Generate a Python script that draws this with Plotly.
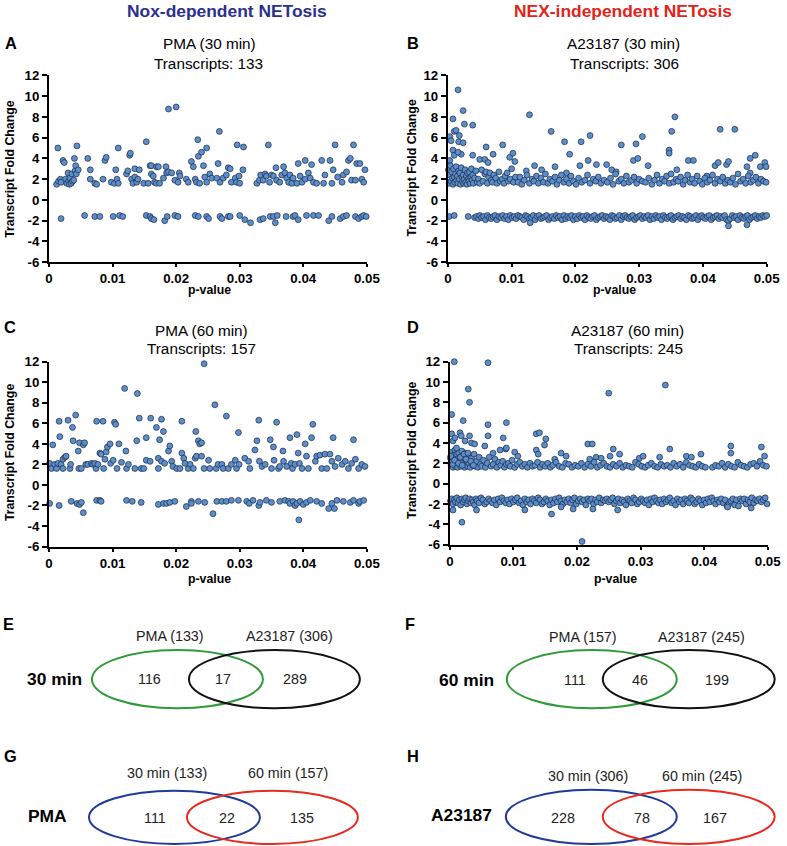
import plotly.graph_objects as go

# Figure size in page pixels (the photographed picture is 787 x 846)
W, H = 805, 865
# observed mapping from page pixels to picture pixels: pic = S * page + OFF
S = 0.978
OFF_X, OFF_Y = 4.0, 8.0
K = 1 / S
FONT = "Liberation Sans, Arial, sans-serif"

# ---------------- DATA ----------------
# p-values are given in units of 1e-3, fold changes as is
P_TICK_VALS = [0, 0.01, 0.02, 0.03, 0.04, 0.05]
P_TICK_TEXT = ["0", "0.01", "0.02", "0.03", "0.04", "0.05"]
FC_TICK_VALS = [-6, -4, -2, 0, 2, 4, 6, 8, 10, 12]
FC_TICK_TEXT = ["-6", "-4", "-2", "0", "2", "4", "6", "8", "10", "12"]

# Panel A: PMA (30 min)
A_points = [
    (1.4, 5.0), (1.2, 1.5), (1.5, 1.8), (1.8, 2.0), (1.9, 1.7),
    (2.2, 3.8), (2.4, 3.6), (2.6, 2.0), (2.8, 1.6), (3.0, 2.6), (3.1, 1.8), (3.2, 1.5),
    (3.3, 2.1), (3.5, 1.6), (3.6, 2.5), (3.7, 1.8), (4.0, 4.0), (4.1, 2.8), (3.9, 1.9),
    (4.2, 3.3), (4.4, 5.2), (4.3, 2.5), (4.6, 2.9),
    (6.1, 4.0), (6.5, 2.9), (6.5, 2.0), (7.2, 1.6), (7.5, 1.5),
    (8.5, 2.0), (8.8, 3.8), (9.0, 4.1), (9.8, 1.7), (10.3, 1.6), (10.5, 2.9), (10.7, 2.0),
    (10.9, 5.0), (10.9, 1.6),
    (12.2, 2.5), (12.4, 2.8), (12.7, 4.3), (12.8, 4.5), (13.0, 2.0), (13.2, 1.6), (13.5, 2.2),
    (13.5, 3.0), (13.8, 1.7), (14.2, 2.9), (14.0, 2.0),
    (15.3, 5.6), (14.9, 1.6), (15.6, 1.6), (15.9, 3.3), (16.1, 3.3), (16.1, 2.5), (16.4, 2.3),
    (16.6, 1.7), (16.9, 3.2), (17.2, 3.2), (16.9, 1.6), (17.4, 1.6), (18.0, 2.1), (18.4, 3.2),
    (18.5, 2.6), (18.8, 8.75), (20.0, 8.95),
    (18.8, 2.7), (19.3, 2.6), (19.8, 1.9), (20.3, 1.7), (20.5, 2.6), (20.6, 2.3),
    (21.6, 2.0), (21.9, 1.7), (22.4, 3.7), (22.7, 3.2), (23.0, 2.0), (23.2, 1.7), (23.4, 5.8),
    (23.5, 4.2), (23.7, 1.6), (24.0, 4.6), (24.3, 3.3), (24.5, 2.2), (24.8, 5.0), (24.8, 1.7),
    (25.3, 2.5), (25.6, 2.1),
    (26.4, 2.1), (26.6, 3.5), (26.8, 6.6), (26.9, 1.7), (27.4, 2.1), (27.9, 2.4), (28.2, 3.1),
    (28.5, 3.0), (28.7, 1.7), (29.3, 2.1), (29.5, 1.7), (29.6, 5.3), (29.9, 2.3), (30.0, 1.6),
    (30.6, 5.1), (30.5, 2.9),
    (32.7, 1.6), (33.1, 1.9), (33.3, 2.4), (33.7, 1.9), (34.0, 2.5), (34.2, 2.3), (34.5, 5.3),
    (34.7, 1.7), (35.0, 2.4), (35.3, 2.3), (35.7, 3.1), (35.8, 1.9), (36.3, 1.7), (36.6, 2.4),
    (36.9, 3.2), (37.1, 2.6), (37.4, 2.1), (37.7, 1.7), (37.9, 2.4), (38.2, 1.6), (38.4, 2.1),
    (39.0, 1.6), (39.2, 3.5), (39.5, 2.3), (39.8, 1.7), (40.3, 3.8), (40.3, 2.0), (40.8, 2.6),
    (41.1, 2.1), (41.3, 3.4), (41.6, 1.7), (42.1, 1.6), (42.9, 3.8), (43.2, 1.6), (43.4, 2.4),
    (44.2, 3.8), (44.5, 1.6), (44.7, 2.9), (45.0, 5.3), (45.4, 2.2), (46.1, 1.7), (46.3, 2.4),
    (46.8, 2.7), (47.1, 3.8), (47.4, 4.0), (47.6, 1.9), (47.9, 5.3), (48.2, 1.9), (48.4, 3.5),
    (48.9, 3.5), (49.2, 2.0), (49.5, 1.7), (49.7, 2.9),
    # down-regulated
    (1.9, -1.8), (5.6, -1.5), (7.2, -1.6), (8.0, -1.6), (10.1, -1.6), (11.1, -1.5), (11.6, -1.6),
    (15.3, -1.5), (15.9, -1.6), (16.1, -1.8), (16.5, -1.9), (18.2, -2.0), (18.6, -1.6),
    (19.8, -1.5), (20.3, -1.6), (23.0, -1.5), (23.5, -1.6), (24.8, -1.6), (25.1, -1.8),
    (26.9, -1.6), (27.2, -1.8), (28.2, -1.6), (28.5, -1.6), (30.0, -1.5), (30.8, -1.9),
    (31.7, -2.2), (33.2, -1.9), (33.7, -1.8), (34.8, -1.6), (35.3, -1.6), (35.6, -2.2),
    (35.9, -1.5), (37.3, -1.6), (38.4, -1.6), (38.7, -1.5), (39.2, -1.9), (40.5, -1.5),
    (41.6, -1.5), (42.4, -1.5), (44.0, -2.0), (44.5, -1.6), (45.8, -1.8), (46.3, -1.6),
    (46.8, -1.5), (48.2, -1.6), (48.7, -1.8), (49.2, -1.6), (49.5, -1.5), (49.9, -1.6),
]

# Panel B: A23187 (30 min)
B_outliers = [
    (1.6, 10.6), (0.8, 7.8), (2.4, 8.6), (2.6, 7.3), (3.9, 7.2), (0.3, 6.1), (0.5, 5.7),
    (1.0, 6.6), (1.3, 6.7), (1.8, 6.2), (1.7, 5.6), (2.4, 5.5), (2.1, 4.4), (0.8, 4.8),
    (0.3, 3.8), (1.0, 4.3), (1.6, 4.6), (3.9, 4.3), (5.0, 3.9), (6.0, 5.1), (5.8, 3.9),
    (6.3, 3.6), (7.1, 4.4), (8.6, 5.3), (9.7, 4.1), (10.2, 4.5), (10.5, 3.7), (12.8, 8.2),
    (12.3, 2.8), (13.6, 3.3), (14.7, 2.9), (16.2, 6.6), (16.8, 3.2), (18.3, 5.6), (19.1, 4.4),
    (18.6, 2.6), (20.9, 5.6), (20.7, 3.3), (22.3, 6.2), (22.0, 3.8), (23.3, 3.4), (24.9, 3.4),
    (25.7, 2.9), (26.4, 2.7), (27.2, 5.3), (29.1, 3.8), (29.5, 5.4), (29.8, 4.0), (30.5, 6.1),
    (31.4, 3.3), (35.1, 6.6), (34.7, 4.8), (34.7, 4.5), (35.6, 8.0), (35.9, 2.9), (37.7, 3.8),
    (38.5, 3.8), (40.6, 2.3), (41.9, 3.3), (42.4, 3.6), (42.7, 6.8), (43.7, 3.4), (44.0, 3.7),
    (45.0, 6.8), (47.4, 4.0), (48.2, 4.3), (49.0, 3.2), (49.7, 3.6), (49.9, 3.2), (46.9, 3.2),
    (47.4, 2.6),
]
B_up_p = [
    0.1, 0.2, 0.3, 0.4, 0.5, 0.6, 0.7, 0.8, 0.9, 1.0,
    1.1, 1.2, 1.3, 1.4, 1.5, 1.6, 1.7, 1.8, 1.9, 2.0,
    2.1, 2.2, 2.3, 2.4, 2.5, 2.6, 2.7, 2.8, 2.9, 3.0,
    3.1, 3.2, 3.3, 3.4, 3.5, 3.6, 3.7, 3.8, 3.9, 4.0,
    4.2, 4.4, 4.6, 4.8, 5.0, 5.3, 5.5, 5.8, 6.0, 6.2,
    6.4, 6.6, 6.8, 7.0, 7.2, 7.5, 7.7, 8.0, 8.2, 8.5,
    8.8, 9.0, 9.3, 9.5, 9.8, 10.0, 10.3, 10.6, 11.0, 11.3,
    11.6, 12.0, 12.4, 12.8, 13.2, 13.5, 13.9, 14.2, 14.6, 15.0,
    15.3, 15.7, 16.0, 16.4, 16.8, 17.1, 17.5, 17.8, 18.2, 18.6,
    19.0, 19.3, 19.7, 20.1, 20.5, 21.0, 21.5, 21.9, 22.3, 22.8,
    23.2, 23.6, 24.0, 24.5, 25.0, 25.5, 25.9, 26.3, 26.8, 27.2,
    27.6, 28.0, 28.4, 28.8, 29.2, 29.6, 30.0, 30.5, 31.0, 31.5,
    32.0, 32.4, 32.8, 33.2, 33.6, 34.0, 34.3, 34.7, 35.0, 35.4,
    35.8, 36.1, 36.5, 36.9, 37.2, 37.6, 38.0, 38.3, 38.7, 39.1,
    39.5, 39.9, 40.3, 40.7, 41.1, 41.5, 41.9, 42.3, 42.7, 43.1,
    43.5, 43.9, 44.3, 44.7, 45.1, 45.5, 45.9, 46.3, 46.7, 47.1,
    47.5, 47.9, 48.3, 48.7, 49.1, 49.5, 49.9,
]
B_up_fc = [
    2.9, 1.6, 2.4, 3.3, 1.8, 2.7, 2.1, 1.5, 3.0, 2.2,
    1.7, 2.5, 3.2, 1.9, 2.3, 1.6, 2.8, 2.0, 2.6, 1.5,
    3.1, 2.2, 1.8, 2.4, 1.6, 2.0, 2.9, 1.7, 2.3, 1.5,
    2.6, 2.0, 1.8, 2.7, 1.6, 2.2, 3.0, 1.9, 2.4, 1.6,
    2.1, 2.8, 1.7, 2.0, 1.6, 2.9, 1.8, 2.5, 2.7, 1.6,
    2.2, 2.6, 1.9, 1.7, 2.4, 2.1, 1.6, 2.7, 1.8, 2.0,
    1.6, 2.3, 2.6, 1.8, 2.0, 3.0, 1.7, 2.2, 1.7, 2.2,
    1.5, 1.9, 2.4, 1.6, 2.0, 1.8, 2.3, 1.6, 2.1, 1.7,
    2.5, 1.6, 2.0, 1.8, 2.2, 1.5, 1.9, 2.4, 1.7, 2.0,
    1.6, 2.3, 1.8, 1.5, 2.1, 1.7, 1.9, 2.4, 1.6, 2.0,
    1.8, 2.2, 1.6, 1.9, 1.7, 2.1, 1.5, 2.5, 1.8, 2.0,
    1.6, 2.3, 1.7, 1.9, 2.2, 1.6, 2.0, 1.8, 1.7, 2.1,
    1.5, 1.9, 2.4, 1.6, 2.0, 1.8, 2.3, 1.6, 2.5, 1.7,
    2.0, 1.8, 2.2, 1.5, 1.9, 2.4, 1.7, 2.0, 1.6, 2.3,
    1.8, 1.5, 2.1, 1.7, 1.9, 2.4, 1.6, 2.0, 1.8, 2.2,
    1.6, 1.9, 1.7, 2.1, 1.5, 2.5, 1.8, 2.0, 1.6, 2.3,
    1.7, 1.9, 2.2, 1.6, 2.0, 1.8, 1.7,
]
B_down_p = [
    0.2, 1.0, 3.2, 4.2, 4.5, 4.8, 5.0, 5.3, 5.6, 5.9,
    6.2, 6.5, 6.8, 7.1, 7.4, 7.7, 8.0, 8.3, 8.6, 8.9,
    9.2, 9.5, 9.8, 10.1, 10.4, 10.7, 11.0, 11.3, 11.6, 11.9,
    12.2, 12.5, 12.8, 13.1, 13.4, 13.7, 14.0, 14.3, 14.6, 14.9,
    15.2, 15.5, 15.8, 16.1, 16.4, 16.7, 17.0, 17.3, 17.6, 17.9,
    18.2, 18.5, 18.8, 19.1, 19.4, 19.7, 20.0, 20.3, 20.6, 20.9,
    21.2, 21.5, 21.8, 22.1, 22.4, 22.7, 23.0, 23.3, 23.6, 23.9,
    24.2, 24.5, 24.8, 25.1, 25.4, 25.7, 26.0, 26.3, 26.6, 26.9,
    27.2, 27.5, 27.8, 28.1, 28.4, 28.7, 29.0, 29.3, 29.6, 29.9,
    30.2, 30.5, 30.8, 31.1, 31.4, 31.7, 32.0, 32.3, 32.6, 32.9,
    33.2, 33.5, 33.8, 34.1, 34.4, 34.7, 35.0, 35.3, 35.6, 35.9,
    36.2, 36.5, 36.8, 37.1, 37.4, 37.7, 38.0, 38.3, 38.6, 38.9,
    39.2, 39.5, 39.8, 40.1, 40.4, 40.7, 41.0, 41.3, 41.6, 41.9,
    42.2, 42.5, 42.8, 43.1, 43.4, 43.7, 44.0, 44.3, 44.6, 44.9,
    45.2, 45.5, 45.8, 46.1, 46.4, 46.7, 47.0, 47.3, 47.6, 47.9,
    48.2, 48.5, 48.8, 49.1, 49.4, 49.7, 50.0, 12.9, 44.0, 46.9,
]
B_down_fc = [
    -1.6, -1.5, -1.6, -1.7, -1.6, -1.8, -1.5, -1.7, -1.6, -1.9,
    -1.5, -1.7, -1.8, -1.6, -1.5, -1.9, -1.6, -1.7, -1.5, -1.8,
    -1.6, -1.9, -1.5, -1.7, -1.6, -1.8, -1.5, -1.6, -1.7, -1.9,
    -1.5, -1.6, -1.8, -1.7, -1.5, -1.9, -1.6, -1.5, -1.8, -1.7,
    -1.6, -1.5, -1.9, -1.7, -1.6, -1.8, -1.5, -1.7, -1.6, -1.9,
    -1.5, -1.8, -1.6, -1.7, -1.5, -1.9, -1.6, -1.8, -1.5, -1.7,
    -1.6, -1.9, -1.5, -1.7, -1.8, -1.6, -1.5, -1.9, -1.7, -1.6,
    -1.5, -1.8, -1.6, -1.7, -1.9, -1.5, -1.6, -1.8, -1.7, -1.5,
    -1.9, -1.6, -1.5, -1.7, -1.8, -1.6, -1.5, -1.9, -1.7, -1.6,
    -1.5, -1.8, -1.6, -1.7, -1.5, -1.9, -1.6, -1.8, -1.5, -1.7,
    -1.6, -1.9, -1.5, -1.7, -1.8, -1.6, -1.5, -1.9, -1.7, -1.6,
    -1.5, -1.8, -1.6, -1.7, -1.9, -1.5, -1.6, -1.8, -1.7, -1.5,
    -1.9, -1.6, -1.5, -1.7, -1.8, -1.6, -1.5, -1.9, -1.7, -1.6,
    -1.5, -1.8, -1.6, -1.7, -1.5, -1.9, -2.0, -1.8, -1.5, -1.7,
    -1.6, -1.9, -1.5, -1.7, -1.8, -1.6, -1.5, -1.9, -1.7, -1.6,
    -1.5, -1.8, -1.6, -1.7, -1.5, -1.6, -1.5, -2.2, -2.5, -2.4,
]

# Panel C: PMA (60 min)
C_points = [
    (0.1, 2.1), (0.4, 1.6), (0.6, 3.9), (0.9, 2.0), (1.2, 1.6), (1.4, 2.1), (1.6, 6.2),
    (1.7, 4.7), (1.9, 2.0), (2.2, 2.5), (2.2, 1.6), (2.5, 2.7), (2.7, 2.8), (3.0, 6.3),
    (3.3, 1.6), (3.4, 2.0), (3.7, 5.6), (3.8, 4.3), (4.2, 6.8), (4.6, 3.3), (4.8, 4.1),
    (4.7, 1.6), (5.1, 1.6), (5.4, 3.9), (5.6, 4.1), (5.8, 2.0), (6.1, 2.0), (6.7, 2.1),
    (6.9, 2.0), (7.2, 2.1), (7.5, 6.2), (7.4, 1.6), (7.7, 2.0), (8.0, 3.1), (8.2, 3.0),
    (8.5, 6.2), (8.6, 1.6), (8.8, 2.5), (9.0, 3.2), (9.2, 3.7), (9.6, 4.0), (9.7, 2.1),
    (10.1, 2.4), (10.3, 6.1), (10.5, 5.9), (10.7, 1.6), (11.0, 4.0), (11.4, 2.2), (11.9, 9.4),
    (12.1, 3.3), (12.2, 1.6), (12.5, 2.0), (13.5, 1.6), (13.8, 4.3), (13.9, 8.9), (14.2, 6.5),
    (14.5, 1.6), (14.9, 1.6), (15.3, 4.6), (15.3, 2.4), (15.9, 2.3), (16.0, 6.5), (16.9, 5.6),
    (17.2, 2.6), (17.2, 1.6), (17.4, 4.4), (17.7, 6.4), (18.0, 5.2), (17.7, 2.3), (18.2, 2.1),
    (18.8, 3.3), (19.0, 3.8), (19.3, 2.3), (19.5, 1.8), (20.1, 1.6), (20.6, 1.6), (20.9, 6.2),
    (20.9, 3.1), (21.2, 2.6), (21.4, 2.1), (21.9, 1.6), (22.2, 2.0), (22.7, 1.6), (23.0, 2.6),
    (23.1, 5.2), (23.2, 2.8), (23.5, 4.3), (23.7, 4.0), (24.0, 4.1), (24.0, 2.8), (24.4, 11.8),
    (24.4, 1.6), (25.1, 2.4), (25.3, 1.6), (26.1, 7.8), (26.3, 1.6), (26.6, 2.0), (27.2, 2.0),
    (27.4, 1.6), (27.9, 6.7), (28.2, 1.6), (28.7, 2.0), (29.3, 2.4), (29.5, 1.6), (29.8, 5.1),
    (29.9, 2.0), (30.8, 2.6), (31.4, 2.3), (31.6, 1.6), (32.4, 3.4), (32.7, 4.3), (33.0, 6.3),
    (33.1, 2.3), (33.5, 1.8), (34.0, 2.0), (34.8, 4.4), (35.0, 1.6), (35.3, 3.7), (35.4, 2.4),
    (35.8, 6.1), (36.1, 1.6), (36.3, 1.8), (36.8, 3.3), (36.9, 2.3), (37.4, 1.8), (37.9, 4.6),
    (38.1, 2.1), (38.3, 1.6), (38.7, 2.0), (39.0, 4.9), (39.2, 3.1), (39.4, 2.1), (39.8, 1.6),
    (40.3, 4.0), (40.5, 2.8), (40.8, 1.6), (41.3, 4.6), (41.5, 5.9), (41.9, 2.3), (42.1, 2.8),
    (42.6, 2.9), (42.9, 1.6), (43.4, 3.0), (43.7, 1.6), (44.2, 3.0), (44.5, 2.3), (44.7, 4.6),
    (45.0, 1.8), (45.5, 2.6), (46.1, 2.0), (46.6, 2.3), (47.1, 1.6), (47.6, 2.1), (47.9, 4.4),
    (48.2, 2.5), (48.7, 1.6), (49.2, 2.0), (49.7, 1.8),
    # down-regulated
    (0.1, -1.8), (1.6, -2.0), (3.5, -1.6), (4.4, -1.8), (4.8, -1.9), (5.1, -1.7), (5.4, -2.7),
    (7.5, -1.5), (8.0, -1.5), (8.2, -1.6), (12.2, -1.5), (13.1, -1.6), (14.5, -1.7),
    (17.2, -1.9), (18.0, -1.8), (18.5, -1.8), (19.0, -1.7), (19.8, -1.6), (21.6, -2.1),
    (22.4, -1.6), (22.4, -1.8), (23.5, -1.6), (24.5, -1.7), (25.8, -2.8), (26.4, -1.6),
    (27.2, -1.6), (27.9, -1.6), (28.7, -1.5), (29.8, -1.5), (31.1, -1.6), (31.5, -1.8),
    (32.1, -1.5), (33.0, -2.0), (33.2, -1.7), (34.2, -1.5), (35.0, -1.7), (36.3, -1.6),
    (37.1, -1.5), (37.7, -1.6), (37.9, -1.8), (38.4, -1.6), (38.7, -2.0), (39.0, -1.8),
    (39.3, -3.4), (39.5, -1.6), (40.0, -1.9), (40.5, -1.7), (41.1, -1.5), (42.1, -1.6),
    (42.9, -1.8), (44.0, -2.3), (44.5, -1.8), (44.9, -2.3), (45.3, -1.5), (46.3, -1.6),
    (47.4, -1.7), (47.9, -1.5), (48.7, -1.8), (48.9, -1.6), (49.5, -1.5),
]

# Panel D: A23187 (60 min)
D_outliers = [
    (0.7, 12.0), (6.0, 11.9), (2.9, 9.3), (3.1, 8.0), (0.3, 6.8), (2.1, 6.2), (6.0, 5.8),
    (8.9, 6.0), (25.0, 8.9), (33.9, 9.7), (0.3, 4.9), (0.5, 4.2), (0.8, 4.5), (1.6, 5.0),
    (1.8, 4.7), (2.4, 4.2), (3.1, 4.7), (3.4, 4.0), (3.9, 3.9), (5.5, 3.7), (6.0, 4.7),
    (6.8, 3.0), (7.9, 3.3), (8.4, 4.5), (8.8, 3.4), (8.9, 3.5), (10.2, 3.1), (10.7, 2.7),
    (13.6, 4.9), (14.1, 5.0), (13.6, 3.3), (13.9, 2.9), (15.1, 4.4), (14.9, 3.8), (16.5, 2.4),
    (17.5, 3.0), (18.3, 2.7), (21.7, 3.9), (22.4, 3.9), (22.0, 2.4), (23.0, 2.6), (23.8, 2.5),
    (25.2, 2.7), (25.7, 3.4), (26.7, 2.9), (29.8, 2.5), (30.4, 2.7), (33.0, 2.6), (34.6, 3.4),
    (37.2, 2.7), (38.0, 2.6), (39.5, 2.9), (44.2, 3.7), (44.2, 3.0), (49.0, 3.6), (49.5, 2.7),
]
D_up_p = [
    0.1, 0.2, 0.3, 0.4, 0.5, 0.6, 0.7, 0.8, 0.9, 1.0,
    1.1, 1.2, 1.3, 1.4, 1.5, 1.6, 1.7, 1.8, 1.9, 2.0,
    2.1, 2.2, 2.3, 2.4, 2.5, 2.6, 2.7, 2.8, 2.9, 3.0,
    3.2, 3.4, 3.6, 3.8, 4.0, 4.2, 4.4, 4.6, 4.8, 5.0,
    5.3, 5.6, 5.9, 6.2, 6.5, 6.8, 7.1, 7.4, 7.7, 8.0,
    8.3, 8.6, 8.9, 9.2, 9.5, 9.8, 10.2, 10.6, 11.0, 11.4,
    11.8, 12.2, 12.6, 13.0, 13.4, 13.8, 14.2, 14.6, 15.0, 15.4,
    15.8, 16.2, 16.7, 17.2, 17.7, 18.2, 18.7, 19.2, 19.7, 20.2,
    20.7, 21.2, 21.7, 22.2, 22.7, 23.2, 23.7, 24.2, 24.7, 25.2,
    25.7, 26.2, 26.7, 27.2, 27.7, 28.2, 28.7, 29.2, 29.7, 30.2,
    30.7, 31.2, 31.7, 32.2, 32.7, 33.2, 33.7, 34.2, 34.7, 35.2,
    35.7, 36.2, 36.7, 37.2, 37.7, 38.2, 38.7, 39.2, 39.7, 40.2,
    41.3, 41.8, 42.3, 42.8, 43.3, 43.8, 44.3, 44.8, 45.3, 45.8,
    46.3, 46.8, 47.3, 47.8, 48.3, 48.8, 49.3, 49.8, 0.15, 0.45,
    0.75, 1.05, 1.35, 1.65, 1.95, 2.25, 2.55, 2.85, 3.3, 3.7,
]
D_up_fc = [
    2.5, 1.8, 3.1, 2.2, 1.6, 2.8, 2.0, 3.3, 1.7, 2.4,
    2.9, 1.6, 2.2, 3.0, 1.9, 2.6, 1.7, 2.3, 3.2, 1.8,
    2.1, 2.7, 1.6, 2.4, 3.0, 1.9, 2.2, 1.7, 2.8, 2.0,
    1.6, 2.5, 1.8, 2.9, 1.7, 2.2, 1.6, 2.6, 1.9, 1.7,
    2.3, 1.6, 2.0, 2.6, 1.7, 1.9, 2.4, 1.6, 2.1, 1.8,
    2.2, 1.6, 1.9, 2.0, 1.7, 2.3, 1.6, 1.9, 2.1, 1.7,
    1.9, 1.6, 2.0, 1.7, 1.8, 2.1, 1.6, 1.9, 1.7, 2.0,
    1.6, 1.8, 2.1, 1.7, 1.6, 2.0, 1.9, 1.6, 1.8, 1.7,
    2.0, 1.6, 1.9, 1.7, 2.1, 1.6, 1.8, 2.0, 1.7, 1.6,
    1.9, 1.7, 2.0, 1.6, 1.8, 1.7, 1.6, 2.1, 1.9, 1.7,
    1.6, 1.8, 2.0, 1.7, 1.6, 1.9, 1.7, 1.8, 1.6, 2.0,
    1.7, 1.9, 1.6, 2.1, 1.8, 1.7, 1.6, 1.9, 1.7, 1.6,
    1.6, 1.8, 1.7, 2.0, 1.6, 1.9, 1.7, 1.6, 2.1, 1.8,
    1.7, 1.6, 1.9, 2.0, 1.7, 2.2, 1.8, 1.7, 2.7, 1.9,
    2.3, 3.5, 2.0, 2.6, 1.8, 2.9, 2.4, 3.0, 2.2, 1.8,
]
D_down_p = [
    0.1, 0.3, 0.5, 0.7, 0.9, 1.1, 1.3, 1.5, 1.7, 1.9,
    2.1, 2.3, 2.5, 2.7, 2.9, 3.1, 3.3, 3.5, 3.7, 3.9,
    4.1, 4.3, 4.6, 4.9, 5.2, 5.5, 5.8, 6.1, 6.4, 6.7,
    7.0, 7.3, 7.6, 7.9, 8.2, 8.5, 8.8, 9.1, 9.4, 9.7,
    10.0, 10.3, 10.6, 10.9, 11.2, 11.5, 11.8, 12.1, 12.4, 12.7,
    13.0, 13.3, 13.6, 13.9, 14.2, 14.5, 14.8, 15.1, 15.4, 15.7,
    16.0, 16.3, 16.6, 16.9, 17.2, 17.5, 17.8, 18.1, 18.4, 18.7,
    19.0, 19.3, 19.6, 19.9, 20.2, 20.5, 20.8, 21.1, 21.4, 21.7,
    22.0, 22.3, 22.6, 22.9, 23.2, 23.5, 23.8, 24.1, 24.4, 24.7,
    25.0, 25.3, 25.6, 25.9, 26.2, 26.5, 26.8, 27.1, 27.4, 27.7,
    28.0, 28.3, 28.6, 28.9, 29.2, 29.5, 29.8, 30.1, 30.4, 30.7,
    31.0, 31.3, 31.6, 31.9, 32.2, 32.5, 32.8, 33.1, 33.4, 33.7,
    34.0, 34.3, 34.6, 34.9, 35.2, 35.5, 35.8, 36.1, 36.4, 36.7,
    37.0, 37.3, 37.6, 37.9, 38.2, 38.5, 38.8, 39.1, 39.4, 39.7,
    40.0, 40.3, 40.6, 40.9, 41.2, 41.5, 41.8, 42.1, 42.4, 42.7,
    43.0, 43.3, 43.6, 43.9, 44.2, 44.5, 44.8, 45.1, 45.4, 45.7,
    46.0, 46.3, 46.6, 46.9, 47.2, 47.5, 47.8, 48.1, 48.4, 48.7,
    49.0, 49.3, 49.6, 49.9, 0.5, 1.9, 4.2, 11.8, 16.0, 17.5,
    19.4, 20.8, 22.5, 26.4, 47.4, 43.7,
]
D_down_fc = [
    -1.7, -1.5, -2.0, -1.6, -1.8, -1.4, -1.9, -1.6, -2.1, -1.5,
    -1.8, -1.6, -1.4, -2.0, -1.7, -1.5, -1.9, -1.6, -1.8, -2.1,
    -1.5, -1.7, -1.9, -1.4, -1.6, -2.0, -1.8, -1.5, -1.7, -1.9,
    -1.6, -2.1, -1.5, -1.8, -1.4, -1.7, -1.9, -1.6, -2.0, -1.5,
    -1.8, -1.6, -1.4, -1.9, -1.7, -2.1, -1.5, -1.8, -1.6, -2.0,
    -1.5, -1.7, -1.9, -1.4, -1.6, -2.0, -1.8, -1.5, -1.7, -2.1,
    -1.6, -1.9, -1.5, -1.8, -1.4, -1.7, -2.0, -1.6, -1.8, -1.5,
    -1.9, -1.6, -1.4, -2.0, -1.7, -1.5, -1.8, -1.6, -2.1, -1.5,
    -1.7, -1.5, -2.0, -1.6, -1.8, -1.4, -1.9, -1.6, -1.7, -1.5,
    -1.8, -1.6, -1.4, -2.0, -1.7, -1.5, -1.9, -1.6, -1.8, -2.1,
    -1.5, -1.7, -1.9, -1.4, -1.6, -2.0, -1.8, -1.5, -1.7, -1.9,
    -1.6, -2.1, -1.5, -1.8, -1.4, -1.7, -1.9, -1.6, -2.0, -1.5,
    -1.8, -1.6, -1.4, -1.9, -1.7, -2.1, -1.5, -1.8, -1.6, -2.0,
    -1.5, -1.7, -1.9, -1.4, -1.6, -2.0, -1.8, -1.5, -1.7, -2.1,
    -1.6, -1.9, -1.5, -1.8, -1.4, -1.7, -2.0, -1.6, -1.8, -1.5,
    -1.9, -1.6, -2.2, -2.0, -1.7, -1.5, -2.1, -1.6, -2.2, -1.5,
    -1.7, -1.5, -2.0, -1.6, -1.8, -1.4, -1.9, -1.6, -1.7, -1.5,
    -1.8, -1.6, -1.4, -2.0, -2.6, -3.8, -2.6, -2.6, -3.0, -2.3,
    -2.5, -5.7, -2.5, -2.6, -2.4, -2.3,
]

# Venn diagrams: set labels and region counts (left only, overlap, right only)
E_sets = ["PMA (133)", "A23187 (306)"]
E_counts = [116, 17, 289]
F_sets = ["PMA (157)", "A23187 (245)"]
F_counts = [111, 46, 199]
G_sets = ["30 min (133)", "60 min (157)"]
G_counts = [111, 22, 135]
H_sets = ["30 min (306)", "60 min (245)"]
H_counts = [228, 78, 167]

# ---------------- HELPERS ----------------
def px(x):
    """picture x pixel -> paper fraction"""
    return ((x - OFF_X) * K) / W


def py(y):
    """picture y pixel (from top) -> paper fraction"""
    return 1 - ((y - OFF_Y) * K) / H


def fs(size):
    return round(size * K, 1)


def split(pairs):
    return [p for p, _ in pairs], [f for _, f in pairs]


MARKER = dict(size=fs(5.8), color="#5b8ecb", line=dict(color="#1b2a44", width=0.7))

fig = go.Figure()

panels = [
    ("A", *split(A_points), ""),
    ("B", *split(B_outliers), "2"),
    ("B", B_up_p, B_up_fc, "2"),
    ("B", B_down_p, B_down_fc, "2"),
    ("C", *split(C_points), "3"),
    ("D", *split(D_outliers), "4"),
    ("D", D_up_p, D_up_fc, "4"),
    ("D", D_down_p, D_down_fc, "4"),
]
for name, pv, fc, sfx in panels:
    n = min(len(pv), len(fc))
    fig.add_trace(go.Scatter(
        x=[v / 1000 for v in pv[:n]], y=fc[:n], mode="markers", marker=MARKER,
        xaxis="x" + sfx, yaxis="y" + sfx, cliponaxis=False, showlegend=False,
        hoverinfo="skip",
    ))

# axis domains in picture pixels: (x_left, x_right, y_top, y_bottom)
DOMAINS = {
    "": (49, 367, 76, 262),
    "2": (448, 767, 76, 262),
    "3": (49, 367, 361, 545),
    "4": (450, 768, 361, 543),
}
TICKFONT = dict(family=FONT, size=fs(13), color="black", weight="bold")
layout_axes = {}
for sfx, (xl, xr, yt, yb) in DOMAINS.items():
    layout_axes["xaxis" + sfx] = dict(
        domain=[px(xl), px(xr)], range=[0, 0.05], anchor="y" + sfx,
        tickvals=P_TICK_VALS, ticktext=P_TICK_TEXT, showline=True, linecolor="black",
        linewidth=2, ticks="outside", ticklen=3, tickwidth=2, tickcolor="black",
        showgrid=False, zeroline=False, tickfont=TICKFONT, fixedrange=True,
    )
    layout_axes["yaxis" + sfx] = dict(
        domain=[py(yb), py(yt)], range=[-6, 12], anchor="x" + sfx,
        tickvals=FC_TICK_VALS, ticktext=FC_TICK_TEXT, showline=True, linecolor="black",
        linewidth=2, ticks="outside", ticklen=5, tickwidth=2, tickcolor="black",
        showgrid=False, zeroline=False, tickfont=TICKFONT, fixedrange=True,
    )

annotations = []


def text(t, x, y, size, bold=False, color="black", angle=0, xanchor="center"):
    annotations.append(dict(
        text=("<b>%s</b>" % t) if bold else t, x=px(x), y=py(y), xref="paper", yref="paper",
        showarrow=False, xanchor=xanchor, yanchor="middle", textangle=angle,
        font=dict(family=FONT, size=fs(size), color=color),
    ))


# headers
text("Nox-dependent NETosis", 227, 12, 17, True, "#2b2f8e")
text("NEX-independent NETosis", 623, 12, 17, True, "#e2231a")

# panel letters
for letter, x, y in [("A", 11, 44), ("B", 413, 44), ("C", 10, 326), ("D", 413, 326),
                     ("E", 9, 622), ("F", 410, 622), ("G", 11, 753), ("H", 413, 753)]:
    text(letter, x, y, 16, True)

# scatter titles
text("PMA (30 min)", 210, 44, 15)
text("Transcripts: 133", 209, 64, 15)
text("A23187 (30 min)", 624, 44, 15)
text("Transcripts: 306", 625, 64, 15)
text("PMA (60 min)", 202, 330, 15)
text("Transcripts: 157", 202, 348, 15)
text("A23187 (60 min)", 628, 330, 15)
text("Transcripts: 245", 629, 348, 15)

# axis titles
for x, y in [(10, 169), (412, 168), (10, 451), (412, 449)]:
    text("Transcript Fold Change", x, y, 12, True, angle=-90)
for x, y in [(210, 290), (615, 290), (210, 577), (616, 577)]:
    text("p-value", x, y, 12, True)

# Venn diagrams
shapes = []
venns = [
    ("30 min", (55, 677), E_sets, E_counts, (170, 290), 634, (92, 263), (189, 360), (648, 706),
     ("#2f9a3a", "#111111"), (150, 223, 295), 677),
    ("60 min", (467, 678), F_sets, F_counts, (583, 702), 635, (507, 677), (603, 775), (648, 706),
     ("#2f9a3a", "#111111"), (575, 640, 717), 678),
    ("PMA", (48, 813), G_sets, G_counts, (167, 288), 770, (89, 260), (187, 358), (788, 841),
     ("#1f3a9a", "#e8291f"), (155, 227, 302), 815),
    ("A23187", (462, 812), H_sets, H_counts, (588, 702), 773, (506, 677), (603, 775), (787, 841),
     ("#1f3a9a", "#e8291f"), (563, 642, 715), 815),
]
for (row, (rx, ry), sets, counts, sxs, sy, e1, e2, (yt, yb), cols, cxs, cy) in venns:
    text(row, rx, ry, 17, True)
    for s, sx in zip(sets, sxs):
        text(s, sx, sy, 14, color="#222222")
    for (x0, x1), col in zip((e1, e2), cols):
        shapes.append(dict(type="circle", xref="paper", yref="paper",
                           x0=px(x0), x1=px(x1), y0=py(yb), y1=py(yt),
                           line=dict(color=col, width=2)))
    for c, cx in zip(counts, cxs):
        text(str(c), cx, cy, 14, color="#222222")

fig.update_layout(
    width=W, height=H, margin=dict(l=0, r=0, t=0, b=0),
    paper_bgcolor="white", plot_bgcolor="white", showlegend=False,
    annotations=annotations, shapes=shapes, font=dict(family=FONT),
    **layout_axes,
)

fig.write_html(
    "out.html",
    config={"displayModeBar": False, "staticPlot": True},
    post_script="document.body.style.margin='0';document.body.style.overflow='hidden';",
)
